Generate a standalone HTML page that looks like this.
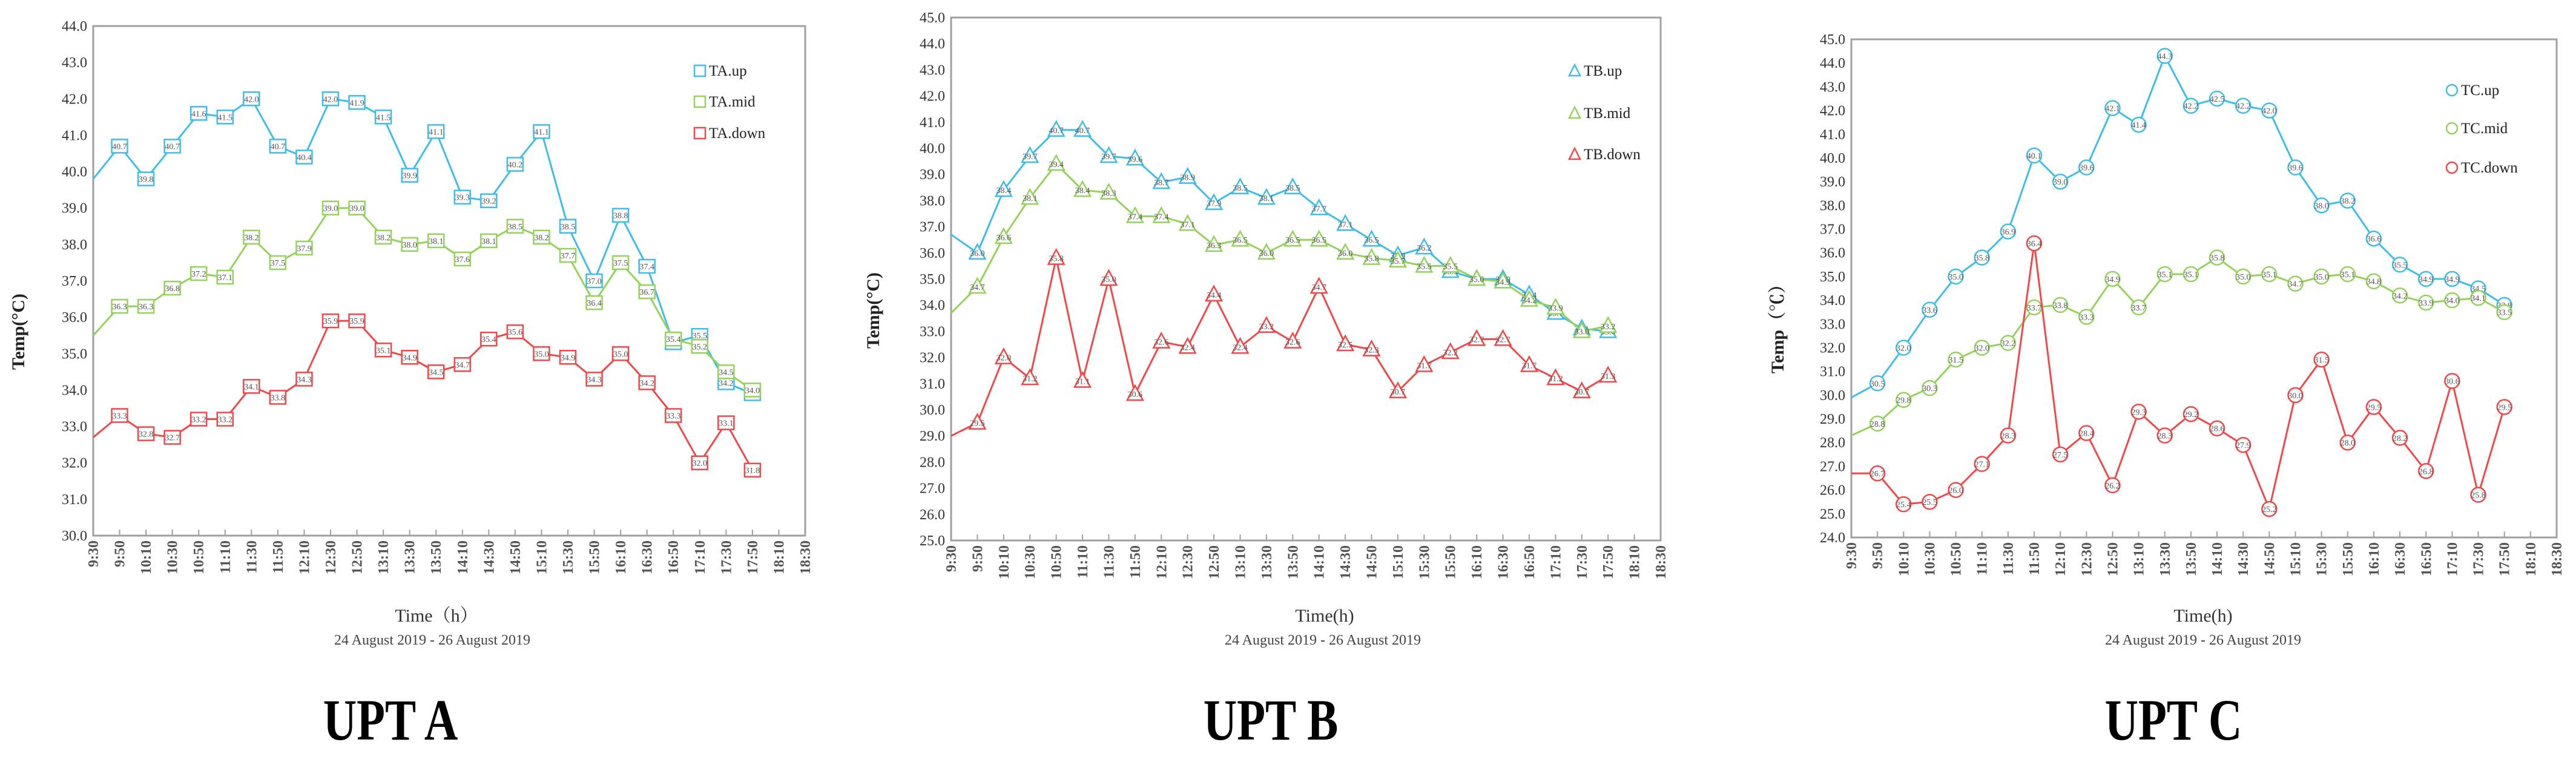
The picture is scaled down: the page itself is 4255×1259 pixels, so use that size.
<!DOCTYPE html>
<html><head><meta charset="utf-8"><style>
html,body{margin:0;padding:0;background:#fff;}
svg{display:block;}
text{font-family:"Liberation Serif","Noto Serif CJK SC",serif;}
</style></head><body>
<svg id="fig" width="4255" height="1259" viewBox="0 0 4255 1259" xmlns="http://www.w3.org/2000/svg"></svg>
<script>
const timeLabels = ["9:30","9:50","10:10","10:30","10:50","11:10","11:30","11:50","12:10","12:30","12:50","13:10","13:30","13:50","14:10","14:30","14:50","15:10","15:30","15:50","16:10","16:30","16:50","17:10","17:30","17:50","18:10","18:30"];
const taUp   = [39.8,40.7,39.8,40.7,41.6,41.5,42.0,40.7,40.4,42.0,41.9,41.5,39.9,41.1,39.3,39.2,40.2,41.1,38.5,37.0,38.8,37.4,35.3,35.5,34.2,33.9];
const taMid  = [35.5,36.3,36.3,36.8,37.2,37.1,38.2,37.5,37.9,39.0,39.0,38.2,38.0,38.1,37.6,38.1,38.5,38.2,37.7,36.4,37.5,36.7,35.4,35.2,34.5,34.0];
const taDown = [32.7,33.3,32.8,32.7,33.2,33.2,34.1,33.8,34.3,35.9,35.9,35.1,34.9,34.5,34.7,35.4,35.6,35.0,34.9,34.3,35.0,34.2,33.3,32.0,33.1,31.8];
const tbUp   = [36.7,36.0,38.4,39.7,40.7,40.7,39.7,39.6,38.7,38.9,37.9,38.5,38.1,38.5,37.7,37.1,36.5,35.9,36.2,35.3,35.0,35.0,34.4,33.7,33.1,33.0];
const tbMid  = [33.7,34.7,36.6,38.1,39.4,38.4,38.3,37.4,37.4,37.1,36.3,36.5,36.0,36.5,36.5,36.0,35.8,35.7,35.5,35.5,35.0,34.9,34.2,33.9,33.0,33.2];
const tbDown = [29.0,29.5,32.0,31.2,35.8,31.1,35.0,30.6,32.6,32.4,34.4,32.4,33.2,32.6,34.7,32.5,32.3,30.7,31.7,32.2,32.7,32.7,31.7,31.2,30.7,31.3];
const tcUp   = [29.9,30.5,32.0,33.6,35.0,35.8,36.9,40.1,39.0,39.6,42.1,41.4,44.3,42.2,42.5,42.2,42.0,39.6,38.0,38.2,36.6,35.5,34.9,34.9,34.5,33.8];
const tcMid  = [28.3,28.8,29.8,30.3,31.5,32.0,32.2,33.7,33.8,33.3,34.9,33.7,35.1,35.1,35.8,35.0,35.1,34.7,35.0,35.1,34.8,34.2,33.9,34.0,34.1,33.5];
const tcDown = [26.7,26.7,25.4,25.5,26.0,27.1,28.3,36.4,27.5,28.4,26.2,29.3,28.3,29.2,28.6,27.9,25.2,30.0,31.5,28.0,29.5,28.2,26.8,30.6,25.8,29.5];
const seriesNamesA = ["TA.up","TA.mid","TA.down"];
const seriesNamesB = ["TB.up","TB.mid","TB.down"];
const seriesNamesC = ["TC.up","TC.mid","TC.down"];

const NS="http://www.w3.org/2000/svg";
const svg=document.getElementById('fig');
const COLORS=["#3FBDEA","#94D35A","#F04848"];
function el(tag,attrs,parent){const e=document.createElementNS(NS,tag);for(const k in attrs)e.setAttribute(k,attrs[k]);(parent||svg).appendChild(e);return e;}

function drawChart(cfg){
  const g=el('g',{});
  
  
  const {L,R,T,B,yMin,yMax}=cfg;
  const xs=i=>L+(R-L)*i/(timeLabels.length-1);
  const ys=v=>B-(B-T)*(v-yMin)/(yMax-yMin);
  const frame=el('rect',{x:L,y:T,width:R-L,height:B-T,fill:"#fff",stroke:"#a0a0a0","stroke-width":3},g);
  
  
  for(let v=yMin;v<=yMax+1e-9;v+=1){
    const t=el('text',{x:L-10,y:ys(v)+8,"text-anchor":"end","font-size":24,fill:"#333"},g);
    t.textContent=v.toFixed(1);
    
    
  }
  timeLabels.forEach((lab,i)=>{
    const x=xs(i);
    el('line',{x1:x,x2:x,y1:B,y2:B-10,stroke:"#a0a0a0","stroke-width":2},g);
    const t=el('text',{x:0,y:0,transform:`translate(${x+8},${B+8}) rotate(-90)`,"text-anchor":"end","font-size":24,"font-weight":"bold",fill:"#555"},g);
    t.textContent=lab;
    
    
  });
  cfg.series.forEach((vals,si)=>{
    const c=COLORS[si];
    const pts=vals.map((v,i)=>xs(i)+","+ys(v)).join(" ");
    const pl=el('polyline',{points:pts,fill:"none",stroke:c,"stroke-width":3},g);
    
    
    vals.forEach((v,i)=>{
      if(i===0)return;
      const x=xs(i),y=ys(v);
      let m;
      if(cfg.marker==='square') m=el('rect',{x:x-13,y:y-11,width:26,height:22,fill:"#fff",stroke:c,"stroke-width":2.5},g);
      else if(cfg.marker==='tri') m=el('polygon',{points:`${x},${y-14} ${x+13},${y+10} ${x-13},${y+10}`,fill:"#fff",stroke:c,"stroke-width":2.5},g);
      else m=el('circle',{cx:x,cy:y,r:12,fill:"#fff",stroke:c,"stroke-width":2.5},g);
      
      
      const t=el('text',{x:x,y:y+5,"text-anchor":"middle","font-size":14,fill:"#555"},g);
      t.textContent=v.toFixed(1);
      
      
    });
  });
  cfg.names.forEach((n,si)=>{
    const y=cfg.legY[si], x=cfg.legX, c=COLORS[si];
    let m;
    if(cfg.marker==='square') m=el('rect',{x:x,y:y-9,width:18,height:18,fill:"#fff",stroke:c,"stroke-width":2.5},g);
    else if(cfg.marker==='tri') m=el('polygon',{points:`${x+9},${y-10} ${x+18},${y+8} ${x},${y+8}`,fill:"#fff",stroke:c,"stroke-width":2.5},g);
    else m=el('circle',{cx:x+9,cy:y,r:9,fill:"#fff",stroke:c,"stroke-width":2.5},g);
    
    
    const t=el('text',{x:x+24,y:y+8,"font-size":25,fill:"#222"},g);
    t.textContent=n;
    
    
  });
  const yt=el('text',{x:0,y:0,transform:`translate(${cfg.yTitleX},${cfg.yTitleY}) rotate(-90)`,"text-anchor":"middle","font-size":30,"font-weight":"bold",fill:"#222"},g);
  yt.textContent=cfg.yTitle;
  
  
  const xt=el('text',{x:cfg.xTitleX,y:1027,"text-anchor":"middle","font-size":30,fill:"#333"},g);
  xt.textContent=cfg.xTitle;
  
  
  const dt=el('text',{x:cfg.dateX,y:1065,"text-anchor":"middle","font-size":24,fill:"#444","font-family":"Liberation Sans, sans-serif"},g);
  dt.textContent="24 August 2019 - 26 August 2019";
  
  
  const cap=el('text',{x:0,y:0,transform:`translate(${cfg.capX},1222) scale(0.8,1)`,"text-anchor":"middle","font-size":96,"font-weight":"bold",fill:"#000"},g);
  cap.textContent=cfg.caption;
  
  
}

drawChart({id:'upt-a',L:154,R:1330,T:43,B:885,yMin:30,yMax:44,series:[taUp,taMid,taDown],names:seriesNamesA,marker:'square',
  legX:1147,legY:[117,168,220],yTitle:"Temp(°C)",yTitleX:40,yTitleY:548,xTitle:"Time（h）",xTitleX:721,dateX:714,capX:645,caption:"UPT A"});
drawChart({id:'upt-b',L:1571,R:2743,T:29,B:893,yMin:25,yMax:45,series:[tbUp,tbMid,tbDown],names:seriesNamesB,marker:'tri',
  legX:2592,legY:[117,187,255],yTitle:"Temp(°C)",yTitleX:1452,yTitleY:513,xTitle:"Time(h)",xTitleX:2188,dateX:2185,capX:2099,caption:"UPT B"});
drawChart({id:'upt-c',L:3058,R:4223,T:65,B:888,yMin:24,yMax:45,series:[tcUp,tcMid,tcDown],names:seriesNamesC,marker:'circle',
  legX:4041,legY:[149,212,277],yTitle:"Temp（℃）",yTitleX:2946,yTitleY:536,xTitle:"Time(h)",xTitleX:3639,dateX:3639,capX:3590,caption:"UPT C"});
</script>
</body></html>
